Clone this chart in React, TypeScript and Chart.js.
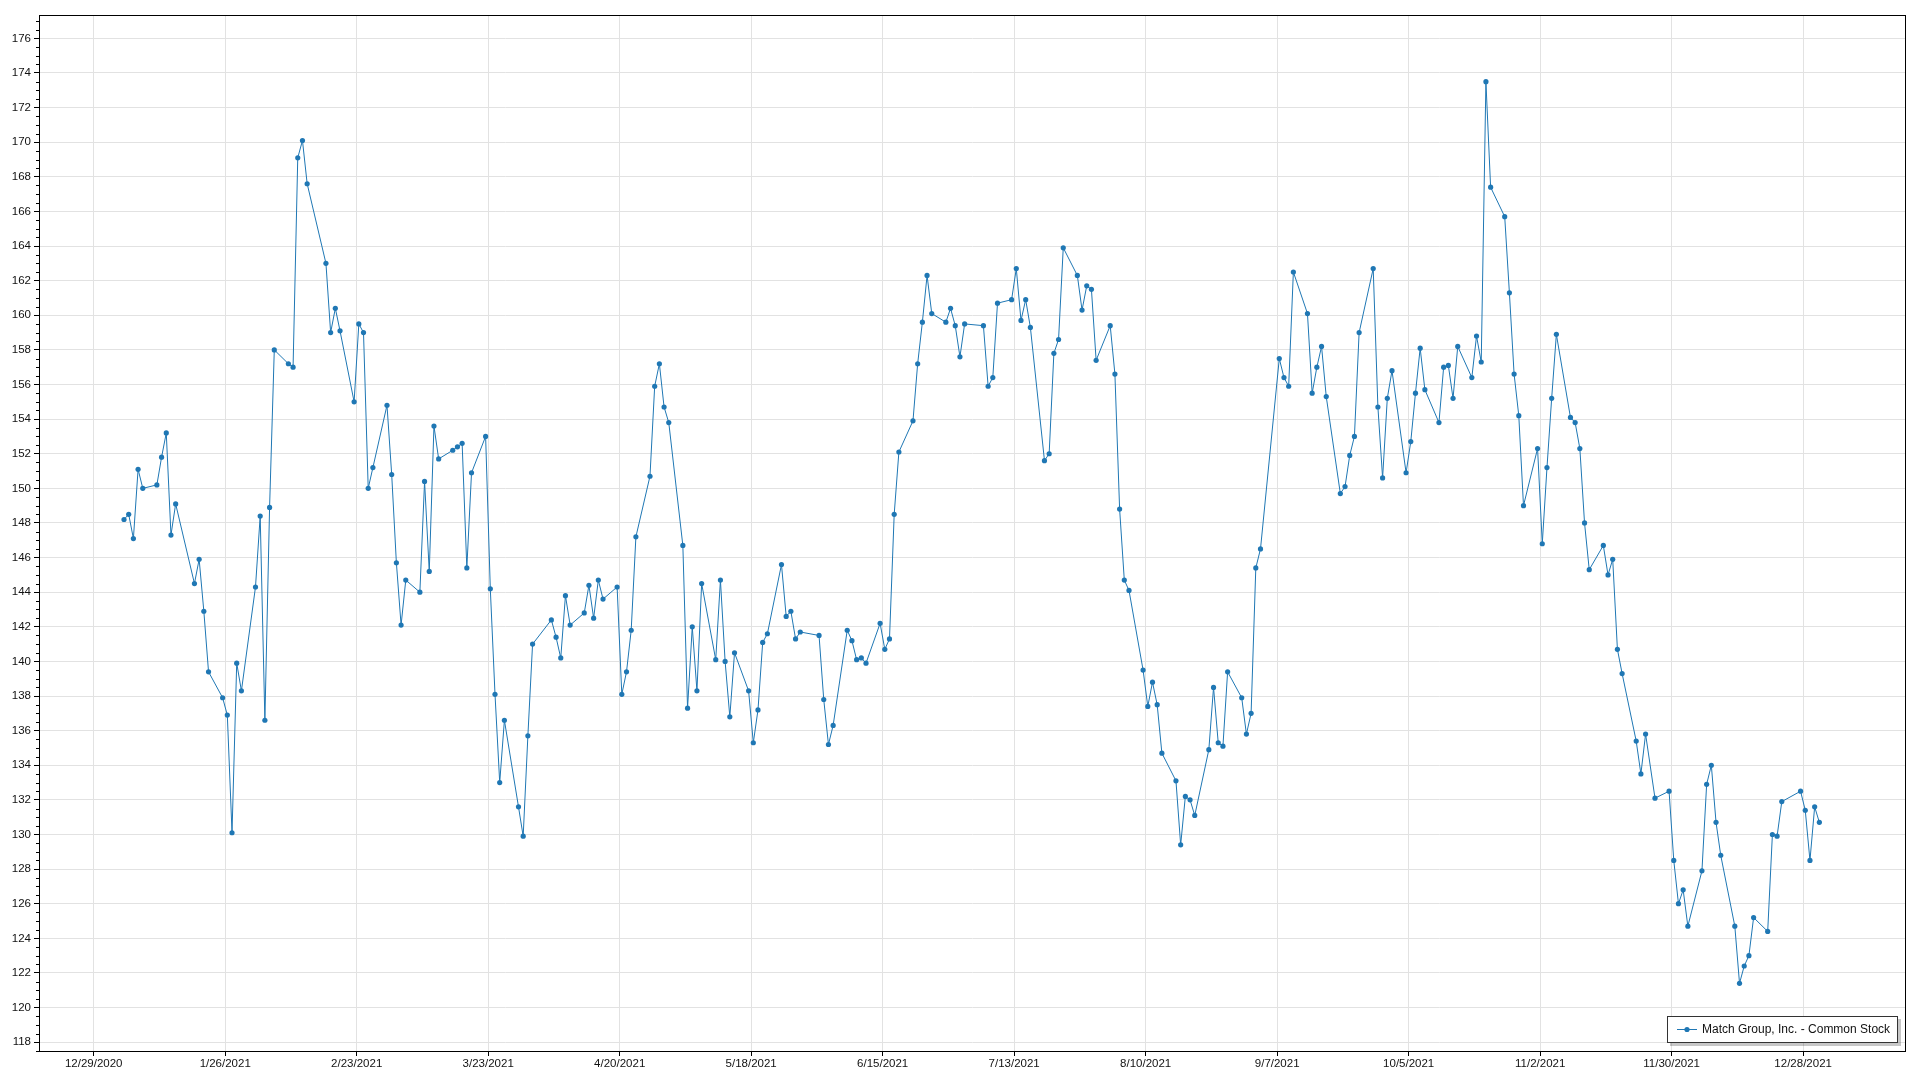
import { useEffect, useRef } from 'react';
import { Chart, registerables } from 'chart.js';

Chart.register(...registerables);

const SERIES_NAME = 'Match Group, Inc. - Common Stock';

const DATES = [
  '2021-01-04', '2021-01-05', '2021-01-06', '2021-01-07', '2021-01-08',
  '2021-01-11', '2021-01-12', '2021-01-13', '2021-01-14', '2021-01-15',
  '2021-01-19', '2021-01-20', '2021-01-21', '2021-01-22',
  '2021-01-25', '2021-01-26', '2021-01-27', '2021-01-28', '2021-01-29',
  '2021-02-01', '2021-02-02', '2021-02-03', '2021-02-04', '2021-02-05',
  '2021-02-08', '2021-02-09', '2021-02-10', '2021-02-11', '2021-02-12',
  '2021-02-16', '2021-02-17', '2021-02-18', '2021-02-19',
  '2021-02-22', '2021-02-23', '2021-02-24', '2021-02-25', '2021-02-26',
  '2021-03-01', '2021-03-02', '2021-03-03', '2021-03-04', '2021-03-05',
  '2021-03-08', '2021-03-09', '2021-03-10', '2021-03-11', '2021-03-12',
  '2021-03-15', '2021-03-16', '2021-03-17', '2021-03-18', '2021-03-19',
  '2021-03-22', '2021-03-23', '2021-03-24', '2021-03-25', '2021-03-26',
  '2021-03-29', '2021-03-30', '2021-03-31', '2021-04-01',
  '2021-04-05', '2021-04-06', '2021-04-07', '2021-04-08', '2021-04-09',
  '2021-04-12', '2021-04-13', '2021-04-14', '2021-04-15', '2021-04-16',
  '2021-04-19', '2021-04-20', '2021-04-21', '2021-04-22', '2021-04-23',
  '2021-04-26', '2021-04-27', '2021-04-28', '2021-04-29', '2021-04-30',
  '2021-05-03', '2021-05-04', '2021-05-05', '2021-05-06', '2021-05-07',
  '2021-05-10', '2021-05-11', '2021-05-12', '2021-05-13', '2021-05-14',
  '2021-05-17', '2021-05-18', '2021-05-19', '2021-05-20', '2021-05-21',
  '2021-05-24', '2021-05-25', '2021-05-26', '2021-05-27', '2021-05-28',
  '2021-06-01', '2021-06-02', '2021-06-03', '2021-06-04',
  '2021-06-07', '2021-06-08', '2021-06-09', '2021-06-10', '2021-06-11',
  '2021-06-14', '2021-06-15', '2021-06-16', '2021-06-17', '2021-06-18',
  '2021-06-21', '2021-06-22', '2021-06-23', '2021-06-24', '2021-06-25',
  '2021-06-28', '2021-06-29', '2021-06-30', '2021-07-01', '2021-07-02',
  '2021-07-06', '2021-07-07', '2021-07-08', '2021-07-09',
  '2021-07-12', '2021-07-13', '2021-07-14', '2021-07-15', '2021-07-16',
  '2021-07-19', '2021-07-20', '2021-07-21', '2021-07-22', '2021-07-23',
  '2021-07-26', '2021-07-27', '2021-07-28', '2021-07-29', '2021-07-30',
  '2021-08-02', '2021-08-03', '2021-08-04', '2021-08-05', '2021-08-06',
  '2021-08-09', '2021-08-10', '2021-08-11', '2021-08-12', '2021-08-13',
  '2021-08-16', '2021-08-17', '2021-08-18', '2021-08-19', '2021-08-20',
  '2021-08-23', '2021-08-24', '2021-08-25', '2021-08-26', '2021-08-27',
  '2021-08-30', '2021-08-31', '2021-09-01', '2021-09-02', '2021-09-03',
  '2021-09-07', '2021-09-08', '2021-09-09', '2021-09-10',
  '2021-09-13', '2021-09-14', '2021-09-15', '2021-09-16', '2021-09-17',
  '2021-09-20', '2021-09-21', '2021-09-22', '2021-09-23', '2021-09-24',
  '2021-09-27', '2021-09-28', '2021-09-29', '2021-09-30', '2021-10-01',
  '2021-10-04', '2021-10-05', '2021-10-06', '2021-10-07', '2021-10-08',
  '2021-10-11', '2021-10-12', '2021-10-13', '2021-10-14', '2021-10-15',
  '2021-10-18', '2021-10-19', '2021-10-20', '2021-10-21', '2021-10-22',
  '2021-10-25', '2021-10-26', '2021-10-27', '2021-10-28', '2021-10-29',
  '2021-11-01', '2021-11-02', '2021-11-03', '2021-11-04', '2021-11-05',
  '2021-11-08', '2021-11-09', '2021-11-10', '2021-11-11', '2021-11-12',
  '2021-11-15', '2021-11-16', '2021-11-17', '2021-11-18', '2021-11-19',
  '2021-11-22', '2021-11-23', '2021-11-24', '2021-11-26',
  '2021-11-29', '2021-11-30', '2021-12-01', '2021-12-02', '2021-12-03',
  '2021-12-06', '2021-12-07', '2021-12-08', '2021-12-09', '2021-12-10',
  '2021-12-13', '2021-12-14', '2021-12-15', '2021-12-16', '2021-12-17',
  '2021-12-20', '2021-12-21', '2021-12-22', '2021-12-23',
  '2021-12-27', '2021-12-28', '2021-12-29', '2021-12-30', '2021-12-31',
];

const PRICES = [
  148.2, 148.5, 147.1, 151.1, 150.0,
  150.2, 151.8, 153.2, 147.3, 149.1,
  144.5, 145.9, 142.9, 139.4,
  137.9, 136.9, 130.1, 139.9, 138.3,
  144.3, 148.4, 136.6, 148.9, 158.0,
  157.2, 157.0, 169.1, 170.1, 167.6,
  163.0, 159.0, 160.4, 159.1,
  155.0, 159.5, 159.0, 150.0, 151.2,
  154.8, 150.8, 145.7, 142.1, 144.7,
  144.0, 150.4, 145.2, 153.6, 151.7,
  152.2, 152.4, 152.6, 145.4, 150.9,
  153.0, 144.2, 138.1, 133.0, 136.6,
  131.6, 129.9, 135.7, 141.0,
  142.4, 141.4, 140.2, 143.8, 142.1,
  142.8, 144.4, 142.5, 144.7, 143.6,
  144.3, 138.1, 139.4, 141.8, 147.2,
  150.7, 155.9, 157.2, 154.7, 153.8,
  146.7, 137.3, 142.0, 138.3, 144.5,
  140.1, 144.7, 140.0, 136.8, 140.5,
  138.3, 135.3, 137.2, 141.1, 141.6,
  145.6, 142.6, 142.9, 141.3, 141.7,
  141.5, 137.8, 135.2, 136.3,
  141.8, 141.2, 140.1, 140.2, 139.9,
  142.2, 140.7, 141.3, 148.5, 152.1,
  153.9, 157.2, 159.6, 162.3, 160.1,
  159.6, 160.4, 159.4, 157.6, 159.5,
  159.4, 155.9, 156.4, 160.7,
  160.9, 162.7, 159.7, 160.9, 159.3,
  151.6, 152.0, 157.8, 158.6, 163.9,
  162.3, 160.3, 161.7, 161.5, 157.4,
  159.4, 156.6, 148.8, 144.7, 144.1,
  139.5, 137.4, 138.8, 137.5, 134.7,
  133.1, 129.4, 132.2, 132.0, 131.1,
  134.9, 138.5, 135.3, 135.1, 139.4,
  137.9, 135.8, 137.0, 145.4, 146.5,
  157.5, 156.4, 155.9, 162.5,
  160.1, 155.5, 157.0, 158.2, 155.3,
  149.7, 150.1, 151.9, 153.0, 159.0,
  162.7, 154.7, 150.6, 155.2, 156.8,
  150.9, 152.7, 155.5, 158.1, 155.7,
  153.8, 157.0, 157.1, 155.2, 158.2,
  156.4, 158.8, 157.3, 173.5, 167.4,
  165.7, 161.3, 156.6, 154.2, 149.0,
  152.3, 146.8, 151.2, 155.2, 158.9,
  154.1, 153.8, 152.3, 148.0, 145.3,
  146.7, 145.0, 145.9, 140.7, 139.3,
  135.4, 133.5, 135.8, 132.1,
  132.5, 128.5, 126.0, 126.8, 124.7,
  127.9, 132.9, 134.0, 130.7, 128.8,
  124.7, 121.4, 122.4, 123.0, 125.2,
  124.4, 130.0, 129.9, 131.9,
  132.5, 131.4, 128.5, 131.6, 130.7,
];

const X_TICK_LABELS = [
  '12/29/2020', '1/26/2021', '2/23/2021', '3/23/2021', '4/20/2021',
  '5/18/2021', '6/15/2021', '7/13/2021', '8/10/2021', '9/7/2021',
  '10/5/2021', '11/2/2021', '11/30/2021', '12/28/2021',
];

const Y_TICKS = [
  118, 120, 122, 124, 126, 128, 130, 132, 134, 136, 138, 140, 142, 144, 146,
  148, 150, 152, 154, 156, 158, 160, 162, 164, 166, 168, 170, 172, 174, 176,
];

// axis extents (days from 12/29/2020, price)
const X_MIN = -11.65;
const X_MAX = 385.9;
const Y_MIN = 117.49;
const Y_MAX = 177.35;
const TIME_OF_DAY = 0.45;
const Y_MINOR_STEP = 0.5;

const BLUE = '#1f77b4';
const GRID = '#e2e2e2';
const TEXT = '#111111';
const FONT_FAMILY = '"Segoe UI", "Liberation Sans", Arial, sans-serif';

const EPOCH = Date.UTC(2020, 11, 29);
const DAY_MS = 86400000;

function isoToDay(s: string): number {
  const [y, m, d] = s.split('-').map(Number);
  return (Date.UTC(y, m - 1, d) - EPOCH) / DAY_MS;
}
function labelToDay(s: string): number {
  const [m, d, y] = s.split('/').map(Number);
  return (Date.UTC(y, m - 1, d) - EPOCH) / DAY_MS;
}
function dayToLabel(v: number): string {
  const dt = new Date(EPOCH + Math.round(v) * DAY_MS);
  return `${dt.getUTCMonth() + 1}/${dt.getUTCDate()}/${dt.getUTCFullYear()}`;
}

const framePlugin = {
  id: 'oxyFrame',
  afterDraw(chart: any) {
    const { ctx, chartArea } = chart;
    const { left, right, top, bottom } = chartArea;
    const yScale = chart.scales.y;
    ctx.save();
    // minor ticks on y axis
    ctx.strokeStyle = '#000';
    ctx.lineWidth = 1;
    ctx.beginPath();
    for (let v = Math.ceil(Y_MIN / Y_MINOR_STEP) * Y_MINOR_STEP; v <= Y_MAX; v += Y_MINOR_STEP) {
      if (Math.abs(v / 2 - Math.round(v / 2)) < 1e-6) continue;
      const py = Math.round(yScale.getPixelForValue(v)) + 0.5;
      ctx.moveTo(left - 3, py);
      ctx.lineTo(left, py);
    }
    ctx.stroke();
    // frame
    ctx.strokeStyle = '#000';
    ctx.lineWidth = 1;
    ctx.strokeRect(left + 0.5, top + 0.5, right - left - 1, bottom - top);

    // legend
    const lw = 231;
    const lh = 27;
    const lx = right - 8 - lw;
    const ly = bottom - 8 - lh;
    ctx.fillStyle = 'rgba(0,0,0,0.22)';
    ctx.fillRect(lx + 3, ly + 3, lw, lh);
    ctx.fillStyle = '#ffffff';
    ctx.fillRect(lx, ly, lw, lh);
    ctx.strokeStyle = '#333333';
    ctx.lineWidth = 1;
    ctx.strokeRect(lx + 0.5, ly + 0.5, lw - 1, lh - 1);
    const cy = ly + lh / 2;
    ctx.strokeStyle = BLUE;
    ctx.beginPath();
    ctx.moveTo(lx + 10, cy);
    ctx.lineTo(lx + 30, cy);
    ctx.stroke();
    ctx.fillStyle = BLUE;
    ctx.beginPath();
    ctx.arc(lx + 20, cy, 2.6, 0, Math.PI * 2);
    ctx.fill();
    ctx.fillStyle = TEXT;
    ctx.font = `12px ${FONT_FAMILY}`;
    ctx.textAlign = 'left';
    ctx.textBaseline = 'middle';
    ctx.fillText(SERIES_NAME, lx + 35, cy);
    ctx.restore();
  },
};

export default function App() {
  const canvasRef = useRef<HTMLCanvasElement | null>(null);

  useEffect(() => {
    const canvas = canvasRef.current;
    if (!canvas) return;
    const points = DATES.map((d, i) => ({ x: isoToDay(d) + TIME_OF_DAY, y: PRICES[i] }));
    const tickFont = { family: FONT_FAMILY, size: 11.5 };
    const chart = new Chart(canvas, {
      type: 'line',
      data: {
        datasets: [
          {
            label: SERIES_NAME,
            data: points,
            borderColor: BLUE,
            backgroundColor: BLUE,
            borderWidth: 1,
            pointRadius: 2.6,
            pointBorderWidth: 0,
            pointBackgroundColor: BLUE,
            pointHoverRadius: 2.6,
            tension: 0,
            fill: false,
          },
        ],
      },
      options: {
        animation: false,
        responsive: false,
        devicePixelRatio: 1,
        events: [],
        layout: { padding: { top: 15, right: 14, left: 0, bottom: 0 } },
        plugins: { legend: { display: false }, tooltip: { enabled: false } },
        scales: {
          x: {
            type: 'linear',
            min: X_MIN,
            max: X_MAX,
            afterBuildTicks: (s: any) => {
              s.ticks = X_TICK_LABELS.map((l) => ({ value: labelToDay(l) }));
            },
            afterFit: (s: any) => {
              s.height = 29;
              s.paddingLeft = 0;
              s.paddingRight = 0;
            },
            border: { display: false },
            grid: { color: GRID, lineWidth: 1, drawTicks: true, tickLength: 5, tickColor: '#000' },
            ticks: {
              autoSkip: false,
              maxRotation: 0,
              minRotation: 0,
              padding: 1,
              color: TEXT,
              font: tickFont,
              callback: (v: any) => dayToLabel(Number(v)),
            },
          },
          y: {
            type: 'linear',
            min: Y_MIN,
            max: Y_MAX,
            afterBuildTicks: (s: any) => {
              s.ticks = Y_TICKS.map((v) => ({ value: v }));
            },
            afterFit: (s: any) => {
              s.width = 39;
              s.paddingTop = 0;
              s.paddingBottom = 0;
            },
            border: { display: false },
            grid: { color: GRID, lineWidth: 1, drawTicks: true, tickLength: 5, tickColor: '#000' },
            ticks: {
              autoSkip: false,
              padding: 3,
              color: TEXT,
              font: tickFont,
              callback: (v: any) => String(v),
            },
          },
        },
      },
      plugins: [framePlugin],
    } as any);
    return () => {
      chart.destroy();
    };
  }, []);

  return (
    <div style={{ position: 'fixed', left: 0, top: 0, width: 1920, height: 1080, background: '#fff' }}>
      <canvas ref={canvasRef} width={1920} height={1080} style={{ width: 1920, height: 1080, display: 'block' }} />
    </div>
  );
}
